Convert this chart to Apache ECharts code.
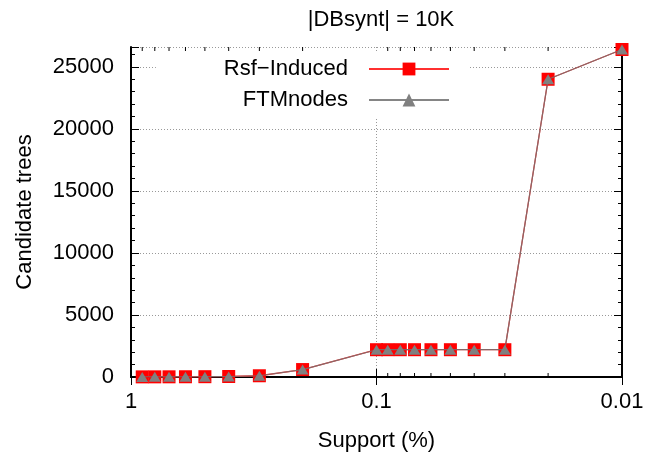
<!DOCTYPE html>
<html><head><meta charset="utf-8">
<script src="https://cdn.jsdelivr.net/npm/echarts@6/dist/echarts.min.js"></script>
<style>html,body{margin:0;padding:0;background:#fff}#c{width:649px;height:457px}</style>
</head><body><div id="c"></div>
<script>
const support = [0.9,0.8,0.7,0.6,0.5,0.4,0.3,0.2,0.1,0.09,0.08,0.07,0.06,0.05,0.04,0.03,0.02,0.01];
const rsfInduced = [10,12,15,20,25,40,100,600,2200,2200,2200,2200,2200,2200,2200,2200,24000,26400];
const ftmNodes   = [10,12,15,20,25,40,100,600,2200,2200,2200,2200,2200,2200,2200,2200,24000,26400];
const xMinorTicks = [0.9,0.8,0.7,0.6,0.5,0.4,0.3,0.2,0.09,0.08,0.07,0.06,0.05,0.04,0.03,0.02];
const xTickLabels = {'1':'1','0.1':'0.1','0.01':'0.01'};
const seriesNames = ['Rsf\u2212Induced','FTMnodes'];

const FONT = 'Liberation Sans';
const FS = 22;
const chart = echarts.init(document.getElementById('c'));
const xCommon = {
  type:'log', logBase:10, min:0.01, max:1, inverse:true,
  axisLine:{show:true,lineStyle:{color:'#000',width:2}},
  axisTick:{show:true,inside:true,length:8,lineStyle:{color:'#000',width:1}},
};
const yCommon = {
  type:'value', min:0, max:26600, interval:5000,
  axisLine:{show:true,lineStyle:{color:'#000',width:2}},
  axisTick:{show:true,inside:true,length:8,lineStyle:{color:'#000',width:1}},
  minorTick:{show:true,splitNumber:5,length:4,lineStyle:{color:'#000',width:1}},
};
chart.setOption({
  animation:false,
  backgroundColor:'#fff',
  textStyle:{fontFamily:FONT},
  title:{text:'|DBsynt| = 10K',left:376,top:4,textAlign:'center',
    textStyle:{fontFamily:FONT,fontSize:FS,fontWeight:'normal',color:'#000'}},
  grid:{left:131,right:27,top:47,bottom:80,containLabel:false},
  legend:{
    data:seriesNames, orient:'vertical', align:'right',
    right:181, top:52, padding:[6,18,8,68], itemGap:9,
    itemWidth:80, itemHeight:16,
    backgroundColor:'#fff',
    textStyle:{fontFamily:FONT,fontSize:FS,color:'#000',padding:[0,16,0,0]}
  },
  xAxis:[
    Object.assign({}, xCommon, {position:'bottom',
      name:'Support (%)', nameLocation:'middle', nameGap:53,
      nameTextStyle:{fontFamily:FONT,fontSize:FS,color:'#000'},
      axisLabel:{show:true,margin:14,fontFamily:FONT,fontSize:FS,color:'#000',
        formatter:v=>xTickLabels[String(+(+v).toPrecision(3))]||''},
      splitLine:{show:true,lineStyle:{color:'#999',type:[1,2],width:1}}}),
    Object.assign({}, xCommon, {position:'top',axisLabel:{show:false},splitLine:{show:false}})
  ],
  yAxis:[
    Object.assign({}, yCommon, {position:'left',
      name:'Candidate trees', nameLocation:'middle', nameGap:95, nameRotate:90,
      nameTextStyle:{fontFamily:FONT,fontSize:FS,color:'#000'},
      axisLabel:{show:true,margin:17,fontFamily:FONT,fontSize:FS,color:'#000',showMaxLabel:false,
        formatter:v=>String(v)},
      splitLine:{show:true,lineStyle:{color:'#999',type:[1,2],width:1}}}),
    Object.assign({}, yCommon, {position:'right',axisLabel:{show:false},splitLine:{show:false}})
  ],
  series:[
    {type:'custom', name:'xminor', silent:true, xAxisIndex:0, yAxisIndex:0, z:1,
      data:xMinorTicks.map(v=>[v,0]),
      encode:{x:0,y:1},
      renderItem:function(params, api){
        const x = api.coord([api.value(0),0])[0];
        const cs = params.coordSys;
        return {type:'group',children:[
          {type:'line',shape:{x1:x,y1:cs.y+cs.height,x2:x,y2:cs.y+cs.height-4},style:{stroke:'#000',lineWidth:1}},
          {type:'line',shape:{x1:x,y1:cs.y,x2:x,y2:cs.y+4},style:{stroke:'#000',lineWidth:1}}
        ]};
      }},
    {type:'line', name:seriesNames[0], xAxisIndex:0, yAxisIndex:0, z:3,
      data:support.map((s,i)=>[s,rsfInduced[i]]),
      symbol:'rect', symbolSize:13,
      itemStyle:{color:'#ff0000'},
      lineStyle:{color:'#ff3030',width:1.3}},
    {type:'line', name:seriesNames[1], xAxisIndex:0, yAxisIndex:0, z:4,
      data:support.map((s,i)=>[s,ftmNodes[i]]),
      symbol:'triangle', symbolSize:[12,10],
      itemStyle:{color:'#808080'},
      lineStyle:{color:'#707070',width:1.2,opacity:0.85}}
  ]
});
</script></body></html>
